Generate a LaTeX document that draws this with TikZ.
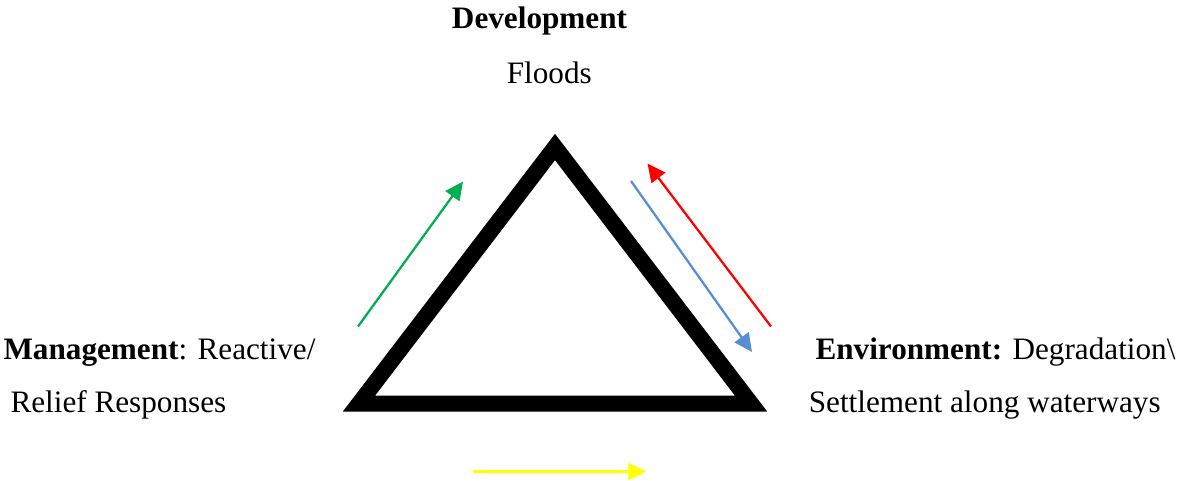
\documentclass[tikz,border=0pt]{standalone}
\usepackage{fontspec}
\setmainfont{Liberation Serif}
\usetikzlibrary{arrows.meta}
\definecolor{flowgreen}{RGB}{0,176,80}
\definecolor{flowblue}{RGB}{85,142,213}
\definecolor{flowred}{RGB}{255,0,0}
\definecolor{flowyellow}{RGB}{255,255,0}
\tikzset{
	label text/.style={inner sep=0pt, anchor=base west, font=\fontsize{11.7pt}{14pt}\selectfont},
	flow/.style={line width=.85pt, -{Triangle[length=6.8pt,width=6.4pt]}}
}
\begin{document}
\begin{tikzpicture}[x=.375pt,y=-.375pt]
		\useasboundingbox (0,0) rectangle (1182,480);
		\def\edgewidth{6pt}
		\coordinate (apex) at (555,147);
		\coordinate (left) at (359,403.5);
		\coordinate (right) at (751,403.5);
		\draw[line width=\edgewidth, line join=miter] (apex) -- (left) -- (right) -- cycle;
		
		\coordinate (greens) at (358,326.5);
		\coordinate (greene) at (463,181.5);
		\coordinate (blues) at (631,181);
		\coordinate (bluee) at (752,352);
		\coordinate (reds) at (771,326.5);
		\coordinate (rede) at (647.5,163.5);
		\coordinate (yellows) at (473,471.5);
		\coordinate (yellowe) at (646.5,471.5);
		\draw[flow, flowgreen] (greens) -- (greene);
		\draw[flow, flowblue] (blues) -- (bluee);
		\draw[flow, flowred] (reds) -- (rede);
		\draw[flow, flowyellow] (yellows) -- (yellowe);
		
		\node[label text, anchor=base] (dev) at (539.5,28.3) {\textbf{Development}};
		\node[label text, anchor=base] (floods) at (549.3,83.3) {Floods};
		\node[label text] (mgmt) at (3,359.3) {\textbf{Management}: Reactive/};
		\node[label text] (relief) at (10,412.3) {Relief Responses};
		\node[label text] (env) at (815,359.3) {\textbf{Environment:} Degradation\textbackslash};
		\node[label text] (settle) at (808.3,412.3) {Settlement along waterways};
\end{tikzpicture}
\end{document}
